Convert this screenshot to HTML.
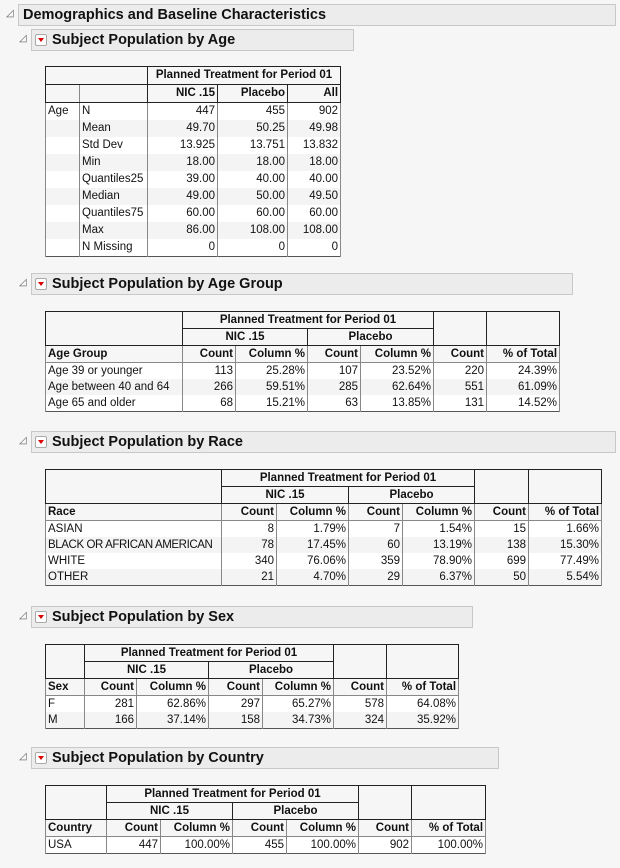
<!DOCTYPE html>
<html><head><meta charset="utf-8"><style>
body{margin:0;width:620px;height:868px;background:#f6f6f6;font-family:"Liberation Sans",Arial,sans-serif;font-size:11.5px;color:#111;position:relative;overflow:hidden}
.hd{position:absolute;border:1px solid #c8c8c8;background:#ececec;font-weight:bold;box-sizing:border-box}
.tri{position:absolute;font-size:10px;color:#666}
.btn{position:absolute;width:12px;height:12px;border:1px solid #aaa;background:#fff;box-sizing:border-box;border-radius:2px}
.btn:after{content:"";position:absolute;left:2px;top:3px;border-left:3px solid transparent;border-right:3px solid transparent;border-top:4px solid #d00}
table{position:absolute;border-collapse:collapse;table-layout:fixed;background:#f6f6f6}
td{height:16px;padding:0 2px;white-space:nowrap;overflow:hidden;border-left:1px solid #888;border-right:1px solid #888;text-align:right;line-height:16px}
table.a td{height:17px;line-height:17px}
td.l{text-align:left}
td.c{text-align:center}
tr.h td{font-weight:bold;border:1px solid #222}
tr.h2 td{font-weight:bold;border-top:1px solid #222;border-bottom:1px solid #888}
tr.w td{background:#fff}
tr.g td{background:#f4f4f4}
table{border:1px solid #555}
.hd{font-size:14.5px!important}
</style></head><body>
<span class="tri" style="left:6px;top:8px">◿</span>
<div class="hd" style="left:18px;top:4px;width:598px;height:22px;padding:2px 4px">Demographics and Baseline Characteristics</div>

<span class="tri" style="left:19px;top:33px">◿</span>
<div class="hd" style="left:31px;top:29px;width:323px;height:22px;padding:2px 0 0 20px">Subject Population by Age</div>
<div class="btn" style="left:35px;top:34px"></div>
<table class="a" style="left:45px;top:66px;width:296px">
<colgroup><col style="width:34px"><col style="width:68px"><col style="width:70px"><col style="width:70px"><col style="width:53px"></colgroup>
<tr class="h"><td style="border-right:1px solid #222" colspan="2"></td><td colspan="3" class="c">Planned Treatment for Period 01</td></tr>
<tr class="h"><td style="border-right:1px solid #888"></td><td></td><td>NIC .15</td><td>Placebo</td><td>All</td></tr>
<tr class="w"><td class="l">Age</td><td class="l">N</td><td>447</td><td>455</td><td>902</td></tr>
<tr class="g"><td></td><td class="l">Mean</td><td>49.70</td><td>50.25</td><td>49.98</td></tr>
<tr class="w"><td></td><td class="l">Std Dev</td><td>13.925</td><td>13.751</td><td>13.832</td></tr>
<tr class="g"><td></td><td class="l">Min</td><td>18.00</td><td>18.00</td><td>18.00</td></tr>
<tr class="w"><td></td><td class="l">Quantiles25</td><td>39.00</td><td>40.00</td><td>40.00</td></tr>
<tr class="g"><td></td><td class="l">Median</td><td>49.00</td><td>50.00</td><td>49.50</td></tr>
<tr class="w"><td></td><td class="l">Quantiles75</td><td>60.00</td><td>60.00</td><td>60.00</td></tr>
<tr class="g"><td></td><td class="l">Max</td><td>86.00</td><td>108.00</td><td>108.00</td></tr>
<tr class="w"><td></td><td class="l">N Missing</td><td>0</td><td>0</td><td>0</td></tr>
</table>

<span class="tri" style="left:19px;top:277px">◿</span>
<div class="hd" style="left:31px;top:273px;width:542px;height:22px;padding:2px 0 0 20px">Subject Population by Age Group</div>
<div class="btn" style="left:35px;top:278px"></div>
<table style="left:45px;top:311px;width:515px">
<colgroup><col style="width:137px"><col style="width:53px"><col style="width:72px"><col style="width:53px"><col style="width:73px"><col style="width:53px"><col style="width:73px"></colgroup>
<tr class="h"><td rowspan="2"></td><td colspan="4" class="c">Planned Treatment for Period 01</td><td rowspan="2"></td><td rowspan="2"></td></tr>
<tr class="h"><td colspan="2" class="c">NIC .15</td><td colspan="2" class="c">Placebo</td></tr>
<tr class="h2"><td class="l">Age Group</td><td>Count</td><td>Column %</td><td>Count</td><td>Column %</td><td>Count</td><td>% of Total</td></tr>
<tr class="w"><td class="l">Age 39 or younger</td><td>113</td><td>25.28%</td><td>107</td><td>23.52%</td><td>220</td><td>24.39%</td></tr>
<tr class="g"><td class="l">Age between 40 and 64</td><td>266</td><td>59.51%</td><td>285</td><td>62.64%</td><td>551</td><td>61.09%</td></tr>
<tr class="w"><td class="l">Age 65 and older</td><td>68</td><td>15.21%</td><td>63</td><td>13.85%</td><td>131</td><td>14.52%</td></tr>
</table>

<span class="tri" style="left:19px;top:435px">◿</span>
<div class="hd" style="left:31px;top:431px;width:585px;height:22px;padding:2px 0 0 20px">Subject Population by Race</div>
<div class="btn" style="left:35px;top:436px"></div>
<table style="left:45px;top:469px;width:557px">
<colgroup><col style="width:176px"><col style="width:55px"><col style="width:72px"><col style="width:54px"><col style="width:72px"><col style="width:54px"><col style="width:73px"></colgroup>
<tr class="h"><td rowspan="2"></td><td colspan="4" class="c">Planned Treatment for Period 01</td><td rowspan="2"></td><td rowspan="2"></td></tr>
<tr class="h"><td colspan="2" class="c">NIC .15</td><td colspan="2" class="c">Placebo</td></tr>
<tr class="h2"><td class="l">Race</td><td>Count</td><td>Column %</td><td>Count</td><td>Column %</td><td>Count</td><td>% of Total</td></tr>
<tr class="w"><td class="l">ASIAN</td><td>8</td><td>1.79%</td><td>7</td><td>1.54%</td><td>15</td><td>1.66%</td></tr>
<tr class="g"><td class="l" style="letter-spacing:-0.4px">BLACK OR AFRICAN AMERICAN</td><td>78</td><td>17.45%</td><td>60</td><td>13.19%</td><td>138</td><td>15.30%</td></tr>
<tr class="w"><td class="l">WHITE</td><td>340</td><td>76.06%</td><td>359</td><td>78.90%</td><td>699</td><td>77.49%</td></tr>
<tr class="g"><td class="l">OTHER</td><td>21</td><td>4.70%</td><td>29</td><td>6.37%</td><td>50</td><td>5.54%</td></tr>
</table>

<span class="tri" style="left:19px;top:610px">◿</span>
<div class="hd" style="left:31px;top:606px;width:442px;height:22px;padding:2px 0 0 20px">Subject Population by Sex</div>
<div class="btn" style="left:35px;top:611px"></div>
<table style="left:45px;top:644px;width:414px">
<colgroup><col style="width:39px"><col style="width:52px"><col style="width:72px"><col style="width:54px"><col style="width:71px"><col style="width:53px"><col style="width:72px"></colgroup>
<tr class="h"><td rowspan="2"></td><td colspan="4" class="c">Planned Treatment for Period 01</td><td rowspan="2"></td><td rowspan="2"></td></tr>
<tr class="h"><td colspan="2" class="c">NIC .15</td><td colspan="2" class="c">Placebo</td></tr>
<tr class="h2"><td class="l">Sex</td><td>Count</td><td>Column %</td><td>Count</td><td>Column %</td><td>Count</td><td>% of Total</td></tr>
<tr class="w"><td class="l">F</td><td>281</td><td>62.86%</td><td>297</td><td>65.27%</td><td>578</td><td>64.08%</td></tr>
<tr class="g"><td class="l">M</td><td>166</td><td>37.14%</td><td>158</td><td>34.73%</td><td>324</td><td>35.92%</td></tr>
</table>

<span class="tri" style="left:19px;top:751px">◿</span>
<div class="hd" style="left:31px;top:747px;width:468px;height:22px;padding:2px 0 0 20px">Subject Population by Country</div>
<div class="btn" style="left:35px;top:752px"></div>
<table style="left:45px;top:785px;width:441px">
<colgroup><col style="width:61px"><col style="width:54px"><col style="width:72px"><col style="width:54px"><col style="width:72px"><col style="width:53px"><col style="width:74px"></colgroup>
<tr class="h"><td rowspan="2"></td><td colspan="4" class="c">Planned Treatment for Period 01</td><td rowspan="2"></td><td rowspan="2"></td></tr>
<tr class="h"><td colspan="2" class="c">NIC .15</td><td colspan="2" class="c">Placebo</td></tr>
<tr class="h2"><td class="l">Country</td><td>Count</td><td>Column %</td><td>Count</td><td>Column %</td><td>Count</td><td>% of Total</td></tr>
<tr class="w"><td class="l">USA</td><td>447</td><td>100.00%</td><td>455</td><td>100.00%</td><td>902</td><td>100.00%</td></tr>
</table>
</body></html>
